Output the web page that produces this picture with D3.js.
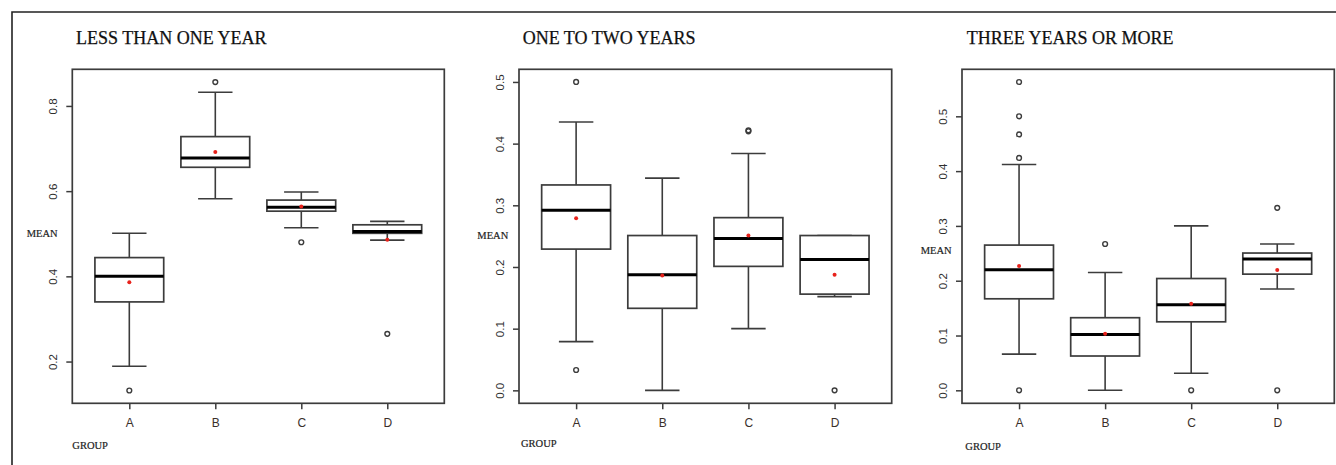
<!DOCTYPE html>
<html>
<head>
<meta charset="utf-8">
<script src="https://cdn.jsdelivr.net/npm/d3@7"></script>
<style>
  html, body { margin: 0; padding: 0; background: #fff; }
  svg { display: block; }
</style>
</head>
<body>
<svg id="chart" width="1336" height="465"></svg>
<script>
// ---------- DATA ----------
const categories = ["A", "B", "C", "D"];
const panelTitles = ["LESS THAN ONE YEAR", "ONE TO TWO YEARS", "THREE YEARS OR MORE"];
const yLabel = "MEAN";
const xLabel = "GROUP";

const yTicks1 = [0.2, 0.4, 0.6, 0.8];
const yTicks2 = [0.0, 0.1, 0.2, 0.3, 0.4, 0.5];
const yTicks3 = [0.0, 0.1, 0.2, 0.3, 0.4, 0.5];

const yDomain1 = [0.102, 0.886];
const yDomain2 = [-0.021, 0.5205];
const yDomain3 = [-0.0237, 0.5858];

// Panel 1: less than one year
const low1  = [0.189, 0.582, 0.514, 0.485];
const q1_1  = [0.340, 0.656, 0.553, 0.501];
const med1  = [0.400, 0.678, 0.562, 0.505];
const q3_1  = [0.444, 0.728, 0.579, 0.521];
const high1 = [0.501, 0.832, 0.598, 0.529];
const mean1 = [0.386, 0.692, 0.564, 0.486];
const out1  = [[0.132], [0.856], [0.480], [0.265]];

// Panel 2: one to two years
const low2  = [0.079, 0.000, 0.100, 0.152];
const q1_2  = [0.229, 0.133, 0.201, 0.156];
const med2  = [0.292, 0.1875, 0.246, 0.212];
const q3_2  = [0.333, 0.251, 0.280, 0.251];
const high2 = [0.435, 0.344, 0.384, 0.251];
const mean2 = [0.279, 0.186, 0.251, 0.1875];
const out2  = [[0.500, 0.033], [], [0.420, 0.4215], [0.000]];

// Panel 3: three years or more
const low3  = [0.066, 0.000, 0.031, 0.185];
const q1_3  = [0.167, 0.0626, 0.125, 0.212];
const med3  = [0.220, 0.102, 0.156, 0.2396];
const q3_3  = [0.265, 0.1325, 0.204, 0.2505];
const high3 = [0.412, 0.215, 0.300, 0.267];
const mean3 = [0.227, 0.103, 0.158, 0.2195];
const out3  = [[0.5626, 0.500, 0.467, 0.424, 0.000], [0.267], [0.000], [0.333, 0.000]];

// ---------- BUILD ----------
const panels = [
  {title: panelTitles[0], ticks: yTicks1, domain: yDomain1, low: low1, q1: q1_1, med: med1, q3: q3_1, high: high1, mean: mean1, out: out1},
  {title: panelTitles[1], ticks: yTicks2, domain: yDomain2, low: low2, q1: q1_2, med: med2, q3: q3_2, high: high2, mean: mean2, out: out2},
  {title: panelTitles[2], ticks: yTicks3, domain: yDomain3, low: low3, q1: q1_3, med: med3, q3: q3_3, high: high3, mean: mean3, out: out3}
];

const layout = [
  {left: 72.3, right: 444.3, titleX: 76,    meanX: 26.7,  meanY: 233,   groupX: 72.3,  groupY: 445.7},
  {left: 519,  right: 891.7, titleX: 522.7, meanX: 477.3, meanY: 235,   groupX: 521,   groupY: 443},
  {left: 962,  right: 1334.3, titleX: 966.7, meanX: 920.7, meanY: 250.7, groupX: 965.3, groupY: 446}
];
const plotTop = 69.3, plotBottom = 403.3;
const lineCol = "#3c3c3c";
const textCol = "#2e2e2e";

const svg = d3.select("#chart");

// outer frame
svg.append("path")
  .attr("d", "M12,465 L12,12 L1336,12")
  .attr("fill", "none").attr("stroke", "#222").attr("stroke-width", 1.6);

panels.forEach((p, i) => {
  const L = layout[i];
  const g = svg.append("g");
  const x = d3.scalePoint().domain(categories).range([L.left, L.right]).padding(0.663);
  const y = d3.scaleLinear().domain(p.domain).range([plotBottom, plotTop]);
  const step = x.step();
  const bw = step * 0.8, cw = step * 0.4;

  // title
  g.append("text").attr("x", L.titleX).attr("y", 44)
    .attr("font-family", "Liberation Serif, Times New Roman, serif")
    .attr("font-size", 18).attr("fill", "#111")
    .attr("stroke", "#111").attr("stroke-width", 0.25).text(p.title);

  // axis labels
  g.append("text").attr("x", L.meanX).attr("y", L.meanY).attr("dy", "0.35em")
    .attr("font-family", "Liberation Serif, Times New Roman, serif")
    .attr("font-size", 10.5).attr("fill", "#222")
    .attr("stroke", "#222").attr("stroke-width", 0.2).text(yLabel);
  g.append("text").attr("x", L.groupX).attr("y", L.groupY).attr("dy", "0.35em")
    .attr("font-family", "Liberation Serif, Times New Roman, serif")
    .attr("font-size", 10.5).attr("fill", "#222")
    .attr("stroke", "#222").attr("stroke-width", 0.2).text(xLabel);

  // y axis
  const ya = g.append("g").attr("transform", `translate(${L.left},0)`)
    .call(d3.axisLeft(y).tickValues(p.ticks).tickFormat(d3.format(".1f")).tickSize(6).tickSizeOuter(0));
  ya.select(".domain").remove();
  ya.selectAll(".tick line").attr("stroke", lineCol).attr("stroke-width", 1.5);
  ya.selectAll(".tick text")
    .attr("x", null).attr("dy", null)
    .attr("text-anchor", "middle")
    .attr("dominant-baseline", "central")
    .attr("transform", "translate(-19.5,0) rotate(-90)")
    .attr("font-family", "Liberation Sans, Arial, sans-serif")
    .attr("font-size", 11.5).attr("fill", textCol);

  // x axis
  const xa = g.append("g").attr("transform", `translate(0,${plotBottom})`)
    .call(d3.axisBottom(x).tickSize(6).tickSizeOuter(0));
  xa.select(".domain").remove();
  xa.selectAll(".tick line").attr("stroke", lineCol).attr("stroke-width", 1.5);
  xa.selectAll(".tick text")
    .attr("y", 19.4).attr("dy", "0.35em")
    .attr("font-family", "Liberation Sans, Arial, sans-serif")
    .attr("font-size", 12).attr("fill", "#3a2f2a");

  // boxes
  categories.forEach((c, k) => {
    const cx = x(c);
    const bg = g.append("g");
    // whiskers
    bg.append("line").attr("x1", cx).attr("x2", cx).attr("y1", y(p.q3[k])).attr("y2", y(p.high[k]))
      .attr("stroke", lineCol).attr("stroke-width", 1.6);
    bg.append("line").attr("x1", cx).attr("x2", cx).attr("y1", y(p.q1[k])).attr("y2", y(p.low[k]))
      .attr("stroke", lineCol).attr("stroke-width", 1.6);
    bg.append("line").attr("x1", cx - cw / 2).attr("x2", cx + cw / 2).attr("y1", y(p.high[k])).attr("y2", y(p.high[k]))
      .attr("stroke", lineCol).attr("stroke-width", 1.6);
    bg.append("line").attr("x1", cx - cw / 2).attr("x2", cx + cw / 2).attr("y1", y(p.low[k])).attr("y2", y(p.low[k]))
      .attr("stroke", lineCol).attr("stroke-width", 1.6);
    // box
    bg.append("rect").attr("x", cx - bw / 2).attr("width", bw)
      .attr("y", y(p.q3[k])).attr("height", y(p.q1[k]) - y(p.q3[k]))
      .attr("fill", "#fff").attr("stroke", lineCol).attr("stroke-width", 1.7);
    // median
    bg.append("line").attr("x1", cx - bw / 2).attr("x2", cx + bw / 2).attr("y1", y(p.med[k])).attr("y2", y(p.med[k]))
      .attr("stroke", "#000").attr("stroke-width", 3);
    // outliers
    bg.selectAll("circle.out").data(p.out[k]).join("circle").attr("class", "out")
      .attr("cx", cx).attr("cy", d => y(d)).attr("r", 2.4)
      .attr("fill", "none").attr("stroke", "#3c3c3c").attr("stroke-width", 1.4);
    // mean
    bg.append("circle").attr("cx", cx).attr("cy", y(p.mean[k])).attr("r", 2)
      .attr("fill", "#e8221b");
  });

  // plot frame
  g.append("rect").attr("x", L.left).attr("y", plotTop)
    .attr("width", L.right - L.left).attr("height", plotBottom - plotTop)
    .attr("fill", "none").attr("stroke", lineCol).attr("stroke-width", 1.7);
});
</script>
</body>
</html>
